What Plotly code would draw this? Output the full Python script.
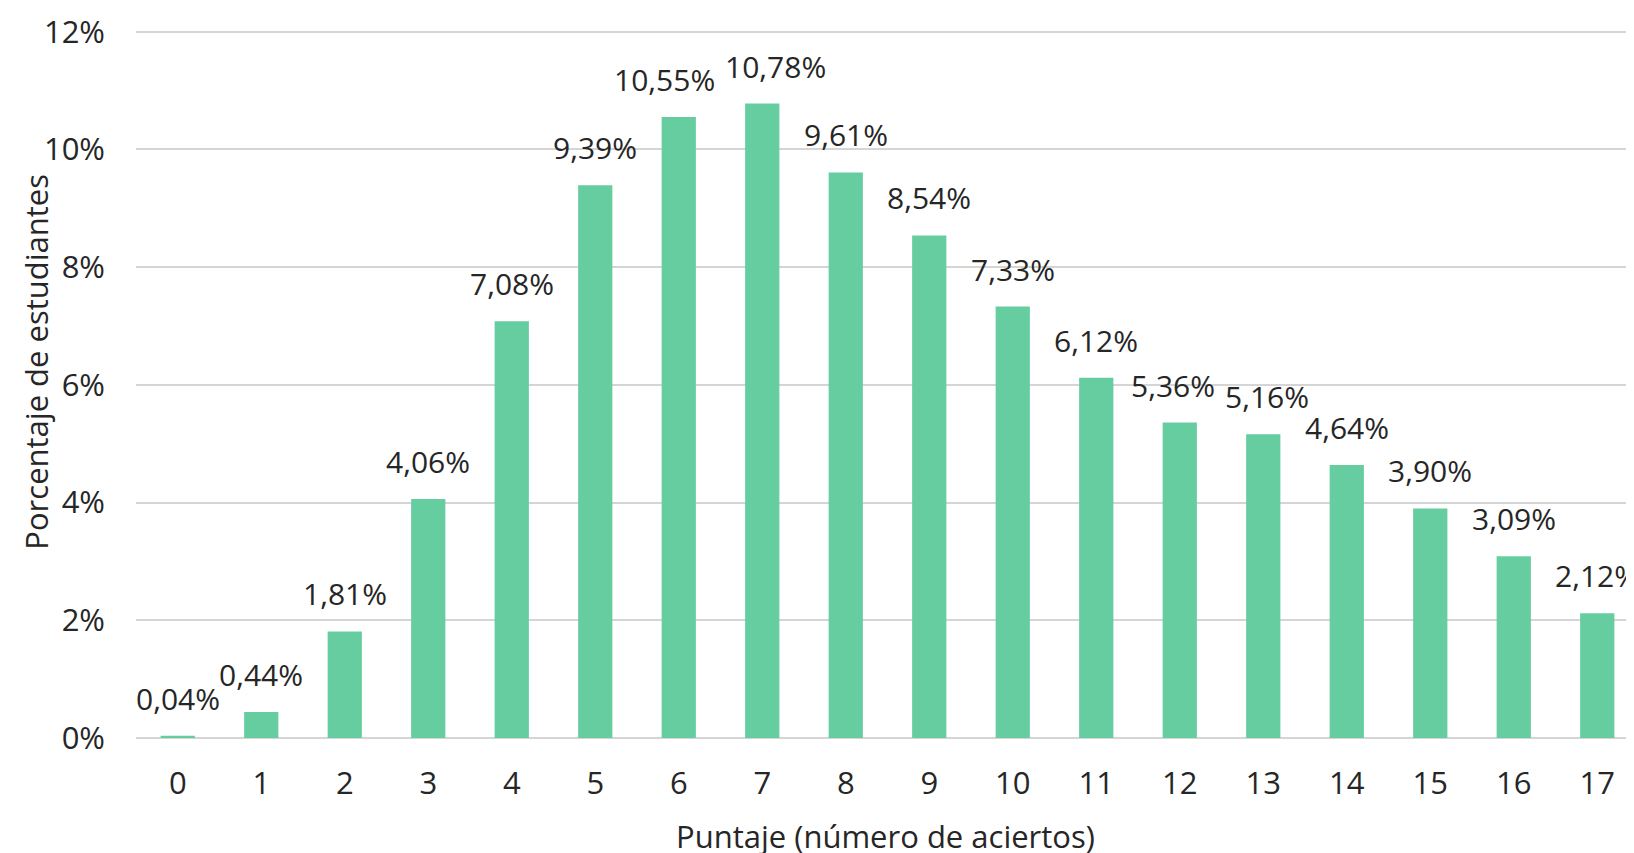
import plotly.graph_objects as go

categories = [str(i) for i in range(18)]
values = [0.04, 0.44, 1.81, 4.06, 7.08, 9.39, 10.55, 10.78, 9.61, 8.54,
          7.33, 6.12, 5.36, 5.16, 4.64, 3.90, 3.09, 2.12]
label_texts = [f"{v:.2f}%".replace(".", ",") for v in values]
label_dx = [0, 0, 0, 0, 0, 0, -14, 13, 0, 0, 0, 0, -7, 4, 0, 0, 0, 0]
y_ticks = [0, 2, 4, 6, 8, 10, 12]
y_ticktext = [f"{t}%" for t in y_ticks]

FONT = "Open Sans"
TXT = "#262626"
BAR = "#66CDA0"

fig = go.Figure()
fig.add_trace(go.Bar(x=categories, y=values, marker_color=BAR,
                     marker_line_width=0, width=0.41, hoverinfo="skip"))

for c, v, t, dx in zip(categories, values, label_texts, label_dx):
    fig.add_annotation(x=c, y=v, text=t, showarrow=False, xanchor="center",
                       yanchor="bottom", yshift=15, xshift=dx,
                       font=dict(family=FONT, size=30, color=TXT))

fig.add_annotation(xref="paper", yref="paper", x=-0.067, y=0.531,
                   xanchor="center", yanchor="middle",
                   text="Porcentaje de estudiantes", textangle=-90,
                   showarrow=False, font=dict(family=FONT, size=31, color=TXT))
fig.add_annotation(xref="paper", yref="paper", x=0.5, y=-0.139,
                   xanchor="center", yanchor="middle",
                   text="Puntaje (número de aciertos)",
                   showarrow=False, font=dict(family=FONT, size=31, color=TXT))

fig.update_layout(
    width=1626, height=845,
    margin=dict(l=128, r=0, t=22, b=115),
    paper_bgcolor="white", plot_bgcolor="white",
    showlegend=False,
)
fig.update_xaxes(type="category", range=[-0.5, 17.44],
                 showgrid=False, showline=False, zeroline=False,
                 ticks="", ticklabelstandoff=24,
                 tickfont=dict(family=FONT, size=31, color=TXT))
fig.update_yaxes(range=[0, 12.03], tickvals=y_ticks, ticktext=y_ticktext,
                 showgrid=True, gridcolor="#D5D5D5", gridwidth=2,
                 zeroline=True, zerolinecolor="#D5D5D5", zerolinewidth=2,
                 showline=False, ticks="", ticklabelstandoff=30,
                 tickfont=dict(family=FONT, size=31, color=TXT))

fig.write_html("out.html")
